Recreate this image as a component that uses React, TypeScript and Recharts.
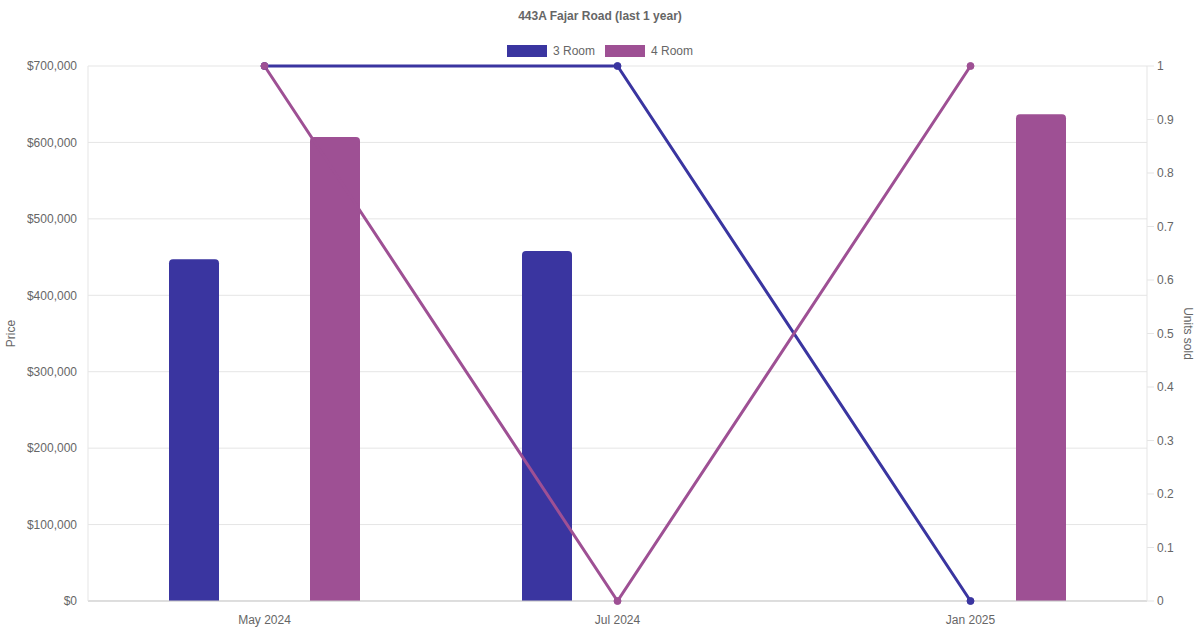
import React from "react"
import { Bar, CartesianGrid, ComposedChart, Line, XAxis, YAxis } from "recharts"

const months = ["May 2024", "Jul 2024", "Jan 2025"]
const price3Room = [447000, 458000, null]
const price4Room = [607000, null, 637000]
const units3Room = [1, 1, 0]
const units4Room = [1, 0, 1]
const priceTicks = [0, 100000, 200000, 300000, 400000, 500000, 600000, 700000]
const unitTicks = [0, 0.1, 0.2, 0.3, 0.4, 0.5, 0.6, 0.7, 0.8, 0.9, 1]

const series = [
  { name: "3 Room", color: "#3a35a0" },
  { name: "4 Room", color: "#9e5094" },
]

const data = months.map((month, i) => ({
  month,
  price3: price3Room[i],
  price4: price4Room[i],
  units3: units3Room[i],
  units4: units4Room[i],
}))

const font = "'Liberation Sans', Arial, sans-serif"
const tickStyle = { fontSize: 12, fill: "#666", fontFamily: font }

const fmtPrice = (v: number) => "$" + v.toLocaleString("en-US")

export default function App() {
  return (
    <div style={{ position: "relative", width: 1200, height: 630, fontFamily: font }}>
      <style>{`body{margin:0}`}</style>
      <div
        style={{
          position: "absolute",
          top: 9,
          left: 0,
          width: 1200,
          textAlign: "center",
          fontSize: 12,
          fontWeight: "bold",
          color: "#666",
          lineHeight: "14px",
        }}
      >
        443A Fajar Road (last 1 year)
      </div>
      <div
        style={{
          position: "absolute",
          top: 44,
          left: 0,
          width: 1200,
          display: "flex",
          justifyContent: "center",
          fontSize: 12,
          color: "#666",
          lineHeight: "14px",
        }}
      >
        {series.map((s) => (
          <div key={s.name} style={{ display: "flex", alignItems: "center", margin: "0 5px" }}>
            <span style={{ display: "inline-block", width: 40, height: 12, background: s.color, marginRight: 6 }} />
            <span>{s.name}</span>
          </div>
        ))}
      </div>
      <ComposedChart
        width={1200}
        height={630}
        data={data}
        margin={{ top: 66, right: 0, bottom: 0, left: 0 }}
        barSize={50}
        barGap={91}
      >
        <CartesianGrid yAxisId="left" vertical={false} stroke="#e5e5e5" />
        <XAxis
          dataKey="month"
          height={29}
          tick={tickStyle}
          tickLine={false}
          tickMargin={8}
          axisLine={{ stroke: "#c9c9c9" }}
        />
        <YAxis
          yAxisId="left"
          width={88}
          domain={[0, 700000]}
          ticks={priceTicks}
          tickFormatter={fmtPrice}
          tick={tickStyle}
          tickLine={false}
          tickSize={0}
          tickMargin={11}
          axisLine={{ stroke: "#e5e5e5" }}
          label={({ viewBox }: any) => (
            <text
              x={viewBox.x + 15}
              y={viewBox.y + viewBox.height / 2}
              transform={`rotate(-90 ${viewBox.x + 15} ${viewBox.y + viewBox.height / 2})`}
              textAnchor="middle"
              fontSize={12}
              fill="#666"
              fontFamily={font}
            >
              Price
            </text>
          )}
        />
        <YAxis
          yAxisId="right"
          orientation="right"
          width={53}
          domain={[0, 1]}
          ticks={unitTicks}
          tick={tickStyle}
          tickLine={{ stroke: "#e5e5e5" }}
          tickSize={7}
          tickMargin={3}
          axisLine={{ stroke: "#e5e5e5" }}
          label={({ viewBox }: any) => (
            <text
              x={viewBox.x + viewBox.width - 16}
              y={viewBox.y + viewBox.height / 2}
              transform={`rotate(90 ${viewBox.x + viewBox.width - 16} ${viewBox.y + viewBox.height / 2})`}
              textAnchor="middle"
              fontSize={12}
              fill="#666"
              fontFamily={font}
            >
              Units sold
            </text>
          )}
        />
        <Bar yAxisId="left" dataKey="price3" name="3 Room" fill={series[0].color} radius={[4, 4, 0, 0]} isAnimationActive={false} />
        <Bar yAxisId="left" dataKey="price4" name="4 Room" fill={series[1].color} radius={[4, 4, 0, 0]} isAnimationActive={false} />
        <Line
          yAxisId="right"
          dataKey="units3"
          stroke={series[0].color}
          strokeWidth={3}
          dot={{ r: 3.5, fill: series[0].color, stroke: series[0].color, strokeWidth: 1 }}
          isAnimationActive={false}
        />
        <Line
          yAxisId="right"
          dataKey="units4"
          stroke={series[1].color}
          strokeWidth={3}
          dot={{ r: 3.5, fill: series[1].color, stroke: series[1].color, strokeWidth: 1 }}
          isAnimationActive={false}
        />
      </ComposedChart>
    </div>
  )
}
